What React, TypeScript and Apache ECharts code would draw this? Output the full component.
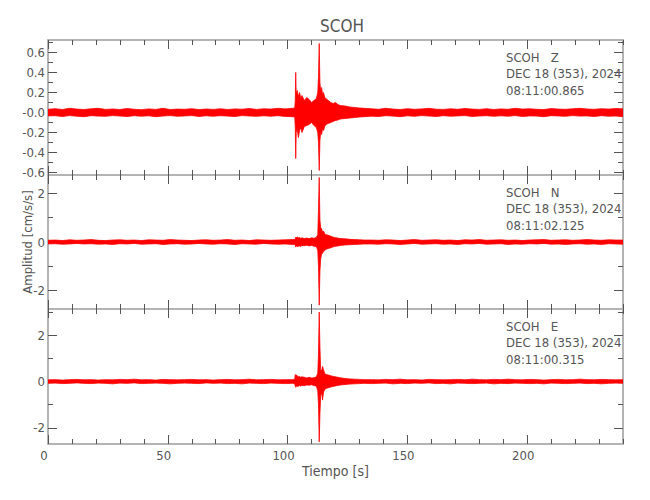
import React, { useEffect, useRef } from 'react';
import * as echarts from 'echarts';

// Time samples (s) shared by the three components
const times = [
  0, 3, 6, 9, 12, 15, 18, 21, 24, 27, 30, 33, 36, 39, 42, 45, 48, 51, 54, 57, 60, 63, 66, 69, 72, 75, 78, 81, 84, 87, 90, 93, 96, 99, 102,
  103, 103.2, 103.4, 103.6, 104, 104.5, 105, 105.5, 106, 107, 108, 109, 110, 111, 112, 112.6, 112.9, 113.2, 113.5, 113.8, 114.2, 114.6, 115, 115.5, 116, 117, 118, 119, 120, 121, 122, 124, 126, 128, 130, 132,
  135, 138, 141, 144, 147, 150, 153, 156, 159, 162, 165, 168, 171, 174, 177, 180, 183, 186, 189, 192, 195, 198, 201, 204, 207, 210, 213, 216, 219, 222, 225, 228, 231, 234, 237, 240,
];

// Z component envelope (upper / lower), cm/s/s
const zMax = [
  0.032, 0.038, 0.03, 0.042, 0.034, 0.03, 0.037, 0.042, 0.031, 0.035, 0.03, 0.04, 0.032, 0.028, 0.036, 0.031, 0.042, 0.03, 0.034, 0.032, 0.038, 0.029, 0.035, 0.031, 0.037, 0.03, 0.036, 0.033, 0.04, 0.031, 0.037, 0.034, 0.042, 0.036, 0.042,
  0.045, 0.12, 0.4, 0.18, 0.22, 0.16, 0.2, 0.14, 0.17, 0.12, 0.15, 0.13, 0.1, 0.12, 0.14, 0.2, 0.36, 0.69, 0.3, 0.22, 0.25, 0.18, 0.2, 0.15, 0.14, 0.12, 0.1, 0.09, 0.1, 0.08, 0.07, 0.065, 0.055, 0.05, 0.045, 0.042,
  0.037, 0.032, 0.042, 0.034, 0.03, 0.038, 0.032, 0.036, 0.042, 0.033, 0.031, 0.037, 0.032, 0.04, 0.034, 0.031, 0.038, 0.03, 0.036, 0.032, 0.042, 0.034, 0.037, 0.032, 0.03, 0.039, 0.034, 0.032, 0.037, 0.042, 0.035, 0.032, 0.038, 0.034, 0.04, 0.037,
];
const zMin = [
  -0.034, -0.032, -0.04, -0.031, -0.037, -0.042, -0.032, -0.036, -0.038, -0.031, -0.035, -0.04, -0.032, -0.037, -0.033, -0.042, -0.035, -0.031, -0.038, -0.034, -0.031, -0.039, -0.033, -0.037, -0.032, -0.036, -0.04, -0.031, -0.035, -0.038, -0.033, -0.037, -0.032, -0.039, -0.042,
  -0.045, -0.15, -0.46, -0.2, -0.16, -0.25, -0.18, -0.15, -0.2, -0.14, -0.13, -0.12, -0.1, -0.13, -0.15, -0.2, -0.3, -0.58, -0.28, -0.2, -0.22, -0.16, -0.18, -0.14, -0.12, -0.11, -0.1, -0.09, -0.08, -0.075, -0.065, -0.06, -0.055, -0.05, -0.045, -0.042,
  -0.037, -0.04, -0.032, -0.036, -0.042, -0.033, -0.038, -0.031, -0.035, -0.04, -0.032, -0.037, -0.034, -0.031, -0.039, -0.035, -0.032, -0.038, -0.033, -0.037, -0.031, -0.04, -0.034, -0.036, -0.042, -0.032, -0.035, -0.038, -0.031, -0.036, -0.034, -0.04, -0.032, -0.037, -0.035, -0.042,
];

// N component envelope
const nMax = [
  0.07, 0.08, 0.06, 0.09, 0.07, 0.08, 0.1, 0.07, 0.06, 0.08, 0.09, 0.07, 0.08, 0.06, 0.09, 0.08, 0.07, 0.1, 0.08, 0.07, 0.06, 0.08, 0.09, 0.07, 0.08, 0.1, 0.07, 0.08, 0.06, 0.09, 0.08, 0.07, 0.08, 0.09, 0.1,
  0.1, 0.14, 0.2, 0.17, 0.21, 0.17, 0.19, 0.15, 0.17, 0.14, 0.16, 0.14, 0.17, 0.15, 0.19, 0.3, 1.35, 2.66, 0.9, 0.6, 0.55, 0.4, 0.45, 0.35, 0.3, 0.28, 0.24, 0.2, 0.18, 0.16, 0.14, 0.13, 0.11, 0.1, 0.09, 0.08,
  0.08, 0.07, 0.09, 0.08, 0.06, 0.08, 0.1, 0.07, 0.08, 0.09, 0.07, 0.08, 0.06, 0.09, 0.08, 0.1, 0.07, 0.08, 0.09, 0.07, 0.08, 0.06, 0.08, 0.09, 0.1, 0.07, 0.08, 0.09, 0.07, 0.08, 0.1, 0.08, 0.07, 0.09, 0.08, 0.08,
];
const nMin = [
  -0.08, -0.07, -0.09, -0.08, -0.06, -0.08, -0.07, -0.09, -0.08, -0.1, -0.07, -0.08, -0.06, -0.09, -0.08, -0.07, -0.1, -0.08, -0.07, -0.09, -0.08, -0.06, -0.08, -0.09, -0.07, -0.08, -0.1, -0.07, -0.08, -0.09, -0.06, -0.08, -0.09, -0.08, -0.1,
  -0.1, -0.14, -0.21, -0.15, -0.19, -0.17, -0.16, -0.19, -0.14, -0.15, -0.13, -0.16, -0.14, -0.17, -0.19, -0.35, -1.0, -2.6, -1.2, -0.7, -0.5, -0.45, -0.4, -0.35, -0.3, -0.27, -0.24, -0.2, -0.18, -0.16, -0.14, -0.12, -0.11, -0.1, -0.09, -0.08,
  -0.08, -0.09, -0.07, -0.08, -0.1, -0.08, -0.06, -0.09, -0.08, -0.07, -0.09, -0.08, -0.1, -0.07, -0.08, -0.06, -0.09, -0.08, -0.07, -0.1, -0.08, -0.09, -0.07, -0.08, -0.06, -0.09, -0.08, -0.1, -0.08, -0.07, -0.09, -0.08, -0.1, -0.07, -0.08, -0.09,
];

// E component envelope
const eMax = [
  0.07, 0.08, 0.06, 0.08, 0.09, 0.07, 0.08, 0.06, 0.08, 0.07, 0.09, 0.08, 0.1, 0.07, 0.08, 0.06, 0.09, 0.08, 0.07, 0.08, 0.09, 0.07, 0.08, 0.06, 0.08, 0.09, 0.07, 0.08, 0.1, 0.07, 0.08, 0.09, 0.07, 0.08, 0.08,
  0.1, 0.3, 0.22, 0.28, 0.25, 0.2, 0.22, 0.18, 0.2, 0.18, 0.15, 0.18, 0.15, 0.16, 0.2, 0.35, 1.2, 2.99, 1.5, 0.5, 0.45, 0.65, 0.5, 0.35, 0.3, 0.28, 0.25, 0.22, 0.2, 0.18, 0.16, 0.13, 0.11, 0.1, 0.09, 0.08,
  0.08, 0.07, 0.09, 0.08, 0.1, 0.07, 0.08, 0.06, 0.09, 0.08, 0.07, 0.08, 0.09, 0.07, 0.1, 0.08, 0.07, 0.09, 0.08, 0.1, 0.08, 0.07, 0.09, 0.08, 0.06, 0.08, 0.09, 0.07, 0.08, 0.1, 0.08, 0.07, 0.09, 0.08, 0.07, 0.08,
];
const eMin = [
  -0.08, -0.07, -0.09, -0.08, -0.06, -0.08, -0.09, -0.07, -0.08, -0.1, -0.07, -0.08, -0.06, -0.09, -0.08, -0.07, -0.08, -0.1, -0.08, -0.07, -0.08, -0.09, -0.06, -0.08, -0.07, -0.09, -0.08, -0.1, -0.07, -0.08, -0.09, -0.07, -0.08, -0.09, -0.08,
  -0.1, -0.2, -0.25, -0.18, -0.22, -0.2, -0.17, -0.2, -0.16, -0.18, -0.15, -0.16, -0.14, -0.17, -0.2, -0.4, -1.0, -2.6, -1.4, -0.6, -0.5, -0.8, -0.45, -0.35, -0.3, -0.27, -0.24, -0.21, -0.19, -0.17, -0.15, -0.13, -0.11, -0.1, -0.09, -0.08,
  -0.09, -0.08, -0.07, -0.1, -0.08, -0.09, -0.07, -0.08, -0.06, -0.09, -0.08, -0.1, -0.07, -0.08, -0.09, -0.08, -0.07, -0.1, -0.08, -0.09, -0.07, -0.08, -0.09, -0.08, -0.1, -0.07, -0.08, -0.09, -0.08, -0.07, -0.09, -0.08, -0.1, -0.08, -0.07, -0.08,
];

// Axis ranges and tick values
const xRange = [0, 240];
const xMajor = [0, 50, 100, 150, 200];
const xMinor = [10, 20, 30, 40, 60, 70, 80, 90, 110, 120, 130, 140, 160, 170, 180, 190, 210, 220, 230, 240];
const zRange = [-0.625, 0.725];
const zMajor = [-0.6, -0.4, -0.2, 0, 0.2, 0.4, 0.6];
const zMinor = [-0.5, -0.3, -0.1, 0.1, 0.3, 0.5, 0.7];
const nRange = [-2.76, 2.76];
const nMajor = [-2, 0, 2];
const nMinor = [-1, 1];
const eRange = [-2.69, 3.12];
const eMajor = [-2, 0, 2];
const eMinor = [-1, 1, 3];

const station = 'SCOH';
const components = ['Z', 'N', 'E'];
const dateLabel = 'DEC 18 (353), 2024';
const startTimes = ['08:11:00.865', '08:11:02.125', '08:11:00.315'];
const xName = 'Tiempo [s]';
const yName = 'Amplitud [cm/s/s]';

const FONT = '"Liberation Sans Narrow", "DejaVu Sans Condensed", "Roboto", sans-serif';
const AXC = '#b4b4b4';
const TKC = '#555555';
const TXC = '#555555';
const RED = '#ff0000';

export default function App() {
  const ref = useRef<HTMLDivElement>(null);

  useEffect(() => {
    if (!ref.current) return;
    const chart = echarts.init(ref.current, undefined, { renderer: 'svg' });

    const panels = [
      { top: 40, height: 135, range: zRange, major: zMajor, minor: zMinor, max: zMax, min: zMin, fmt: (v: number) => (Math.abs(v) < 1e-9 ? '-0.0' : v.toFixed(1)) },
      { top: 175, height: 134, range: nRange, major: nMajor, minor: nMinor, max: nMax, min: nMin, fmt: (v: number) => String(v) },
      { top: 309, height: 135, range: eRange, major: eMajor, minor: eMinor, max: eMax, min: eMin, fmt: (v: number) => String(v) },
    ];

    const grid: any[] = [];
    const xAxis: any[] = [];
    const yAxis: any[] = [];
    const series: any[] = [];
    const graphic: any[] = [];

    panels.forEach((p, i) => {
      grid.push({ left: 48, right: 27, top: p.top, height: p.height, containLabel: false, outerBoundsMode: 'none' });
      const last = i === panels.length - 1;
      const xb = { type: 'value', gridIndex: i, min: xRange[0], max: xRange[1], splitLine: { show: false } };
      const lineOn = { show: true, onZero: false, lineStyle: { color: AXC, width: 2 } };
      const lineOff = { show: false, onZero: false };
      const labelStyle = { color: TXC, fontFamily: FONT, fontSize: 13 };
      xAxis.push({
        ...xb, position: 'bottom', axisLine: lineOn,
        axisTick: { show: true, inside: true, length: 9, customValues: xMajor, lineStyle: { color: TKC, width: 1 } },
        axisLabel: { show: last, customValues: xMajor, margin: 5, padding: [0, 8, 0, 0], ...labelStyle },
        name: last ? xName : '', nameLocation: 'middle', nameGap: 20, nameMoveOverlap: false,
        nameTextStyle: { color: TXC, fontFamily: FONT, fontSize: 14 },
      });
      xAxis.push({ ...xb, position: 'bottom', axisLine: lineOff, axisTick: { show: true, inside: true, length: 5, customValues: xMinor, lineStyle: { color: TKC, width: 1 } }, axisLabel: { show: false } });
      xAxis.push({ ...xb, position: 'top', axisLine: lineOn, axisTick: { show: true, inside: true, length: 9, customValues: xMajor, lineStyle: { color: TKC, width: 1 } }, axisLabel: { show: false } });
      xAxis.push({ ...xb, position: 'top', axisLine: lineOff, axisTick: { show: true, inside: true, length: 5, customValues: xMinor, lineStyle: { color: TKC, width: 1 } }, axisLabel: { show: false } });

      const yb = { type: 'value', gridIndex: i, min: p.range[0], max: p.range[1], splitLine: { show: false } };
      yAxis.push({
        ...yb, position: 'left', axisLine: lineOn,
        axisTick: { show: true, inside: true, length: 9, customValues: p.major, lineStyle: { color: TKC, width: 1 } },
        axisLabel: { show: true, customValues: p.major, margin: 3, formatter: p.fmt, ...labelStyle },
        name: i === 1 ? yName : '', nameLocation: 'middle', nameGap: 14, nameMoveOverlap: false,
        nameTextStyle: { color: TXC, fontFamily: FONT, fontSize: 13 },
      });
      yAxis.push({ ...yb, position: 'left', axisLine: lineOff, axisTick: { show: true, inside: true, length: 5, customValues: p.minor, lineStyle: { color: TKC, width: 1 } }, axisLabel: { show: false } });
      yAxis.push({ ...yb, position: 'right', axisLine: lineOn, axisTick: { show: true, inside: true, length: 9, customValues: p.major, lineStyle: { color: TKC, width: 1 } }, axisLabel: { show: false } });
      yAxis.push({ ...yb, position: 'right', axisLine: lineOff, axisTick: { show: true, inside: true, length: 5, customValues: p.minor, lineStyle: { color: TKC, width: 1 } }, axisLabel: { show: false } });

      const span = p.range[1] - p.range[0];
      const common = {
        type: 'line', xAxisIndex: i * 4, yAxisIndex: i * 4, showSymbol: false, symbol: 'none',
        lineStyle: { color: RED, width: 0.8 }, itemStyle: { color: RED }, z: 1,
      };
      series.push({ ...common, name: components[i] + ' max', areaStyle: { color: RED, opacity: 1, origin: -span * 0.01 }, data: times.map((t, k) => [t, p.max[k]]) });
      series.push({ ...common, name: components[i] + ' min', areaStyle: { color: RED, opacity: 1, origin: span * 0.01 }, data: times.map((t, k) => [t, p.min[k]]) });

      const lines = [station + '\u00a0\u00a0\u00a0' + components[i], dateLabel, startTimes[i]];
      lines.forEach((txt, j) => {
        graphic.push({
          type: 'text', left: 506, top: p.top + 11 + j * 16.3,
          style: { text: txt, fill: TXC, font: `13px ${FONT}` },
        });
      });
    });

    chart.setOption({
      animation: false,
      backgroundColor: '#ffffff',
      title: {
        text: station, left: 337, top: 12, textAlign: 'center',
        textStyle: { color: TXC, fontFamily: FONT, fontSize: 17, fontWeight: 'normal' },
      },
      grid, xAxis, yAxis, series, graphic,
    });

    return () => chart.dispose();
  }, []);

  return <div ref={ref} style={{ position: 'fixed', left: 0, top: 0, width: 650, height: 500 }} />;
}
